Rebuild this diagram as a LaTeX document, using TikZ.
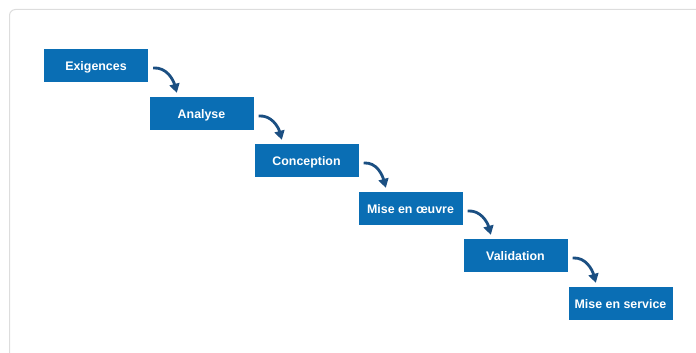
\documentclass[tikz,border=0pt]{standalone}
\usepackage{fontspec}
\setmainfont{Liberation Sans}
\usetikzlibrary{arrows.meta,calc}
\definecolor{boxblue}{HTML}{0A6EB4}
\definecolor{arrowblue}{HTML}{1B4F82}
\definecolor{framegray}{HTML}{DDDDDD}
\begin{document}
\begin{tikzpicture}[x=1pt,y=1pt,
  stage/.style={fill=boxblue, draw=none, minimum width=104pt, minimum height=33pt,
    inner sep=0pt, text height=10.6pt, text depth=0pt, text=white,
    font=\fontsize{12.4}{14}\selectfont\bfseries},
  flow/.style={draw=arrowblue, line width=2.8pt, -{Triangle[length=9pt,width=10pt]}}]
\useasboundingbox (0,0) rectangle (696,-353);
\draw[framegray, line width=1pt, rounded corners=6pt] (9.5,-9.5) rectangle (720,-380);
\node[stage] (s1) at (96,-65.5) {Exigences};
\node[stage] (s2) at (201.5,-113.5) {Analyse};
\node[stage] (s3) at (306.5,-160.5) {Conception};
\node[stage] (s4) at (410.5,-208.5) {Mise en œuvre};
\node[stage] (s5) at (515.5,-255.5) {Validation};
\node[stage] (s6) at (620.5,-303.5) {Mise en service};
\foreach \a/\b in {s1/s2,s2/s3,s3/s4,s4/s5,s5/s6}{
  \draw[flow] ($(\a.east)+(5,-2.5)$) to[out=5,in=105] ($(\b.north west)+(27.5,4)$);
}
\end{tikzpicture}
\end{document}
